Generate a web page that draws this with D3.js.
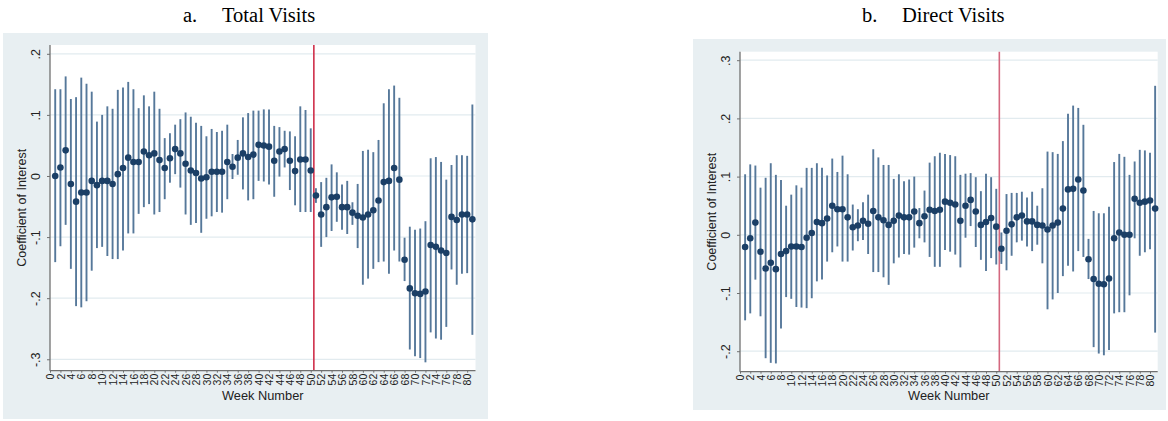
<!DOCTYPE html>
<html>
<head>
<meta charset="utf-8">
<script src="https://cdn.jsdelivr.net/npm/d3@7"></script>
<style>
  html, body { margin: 0; padding: 0; background: #ffffff; }
  svg { display: block; }
</style>
</head>
<body>
<svg id="chart" width="1168" height="421"></svg>
<script>
// Event-study coefficients by week, with 95% confidence bounds.
const weeks = [1,2,3,4,5,6,7,8,9,10,11,12,13,14,15,16,17,18,19,20,
  21,22,23,24,25,26,27,28,29,30,31,32,33,34,35,36,37,38,39,40,
  41,42,43,44,45,46,47,48,49,50,51,52,53,54,55,56,57,58,59,60,
  61,62,63,64,65,66,67,68,69,70,71,72,73,74,75,76,77,78,79,80,81];

const xTicks = [0,2,4,6,8,10,12,14,16,18,20,22,24,26,28,30,32,34,36,38,40,
  42,44,46,48,50,52,54,56,58,60,62,64,66,68,70,72,74,76,78,80];

const eventWeek = 50.6;

// a. Total Visits
const totalCoef = [0.000,0.014,0.042,-0.013,-0.042,-0.027,-0.027,-0.008,-0.015,-0.008,
  -0.008,-0.013,0.003,0.013,0.030,0.023,0.023,0.040,0.034,0.037,
  0.026,0.013,0.029,0.044,0.037,0.020,0.009,0.005,-0.004,-0.002,
  0.007,0.007,0.007,0.023,0.015,0.030,0.037,0.031,0.035,0.051,
  0.050,0.048,0.025,0.040,0.044,0.025,0.008,0.027,0.027,0.009,
  -0.032,-0.063,-0.051,-0.035,-0.034,-0.051,-0.051,-0.060,-0.065,-0.068,
  -0.063,-0.056,-0.040,-0.010,-0.008,0.013,-0.006,-0.137,-0.184,-0.192,
  -0.193,-0.189,-0.113,-0.116,-0.122,-0.126,-0.067,-0.072,-0.063,-0.063,-0.071];
const totalUpper = [0.142,0.142,0.163,0.126,0.129,0.161,0.151,0.138,0.089,0.100,
  0.114,0.110,0.141,0.145,0.154,0.142,0.111,0.132,0.114,0.138,
  0.110,0.062,0.070,0.084,0.093,0.104,0.097,0.087,0.082,0.065,
  0.077,0.072,0.074,0.084,0.036,0.059,0.096,0.103,0.107,0.107,
  0.109,0.109,0.082,0.080,0.074,0.073,0.065,0.114,0.108,0.078,
  -0.020,-0.010,-0.003,0.019,0.006,-0.014,-0.008,-0.043,-0.013,0.041,
  0.043,0.039,0.059,0.119,0.142,0.148,0.128,-0.101,-0.083,-0.088,
  -0.086,-0.074,0.029,0.031,0.023,-0.006,0.018,0.034,0.034,0.033,0.117];
const totalLower = [-0.141,-0.115,-0.080,-0.152,-0.213,-0.215,-0.205,-0.155,-0.118,-0.116,
  -0.131,-0.136,-0.136,-0.122,-0.094,-0.094,-0.062,-0.051,-0.046,-0.063,
  -0.059,-0.038,-0.011,0.003,-0.019,-0.063,-0.080,-0.077,-0.093,-0.070,
  -0.066,-0.059,-0.060,-0.038,-0.005,0.002,-0.022,-0.040,-0.038,-0.008,
  -0.009,-0.014,-0.034,-0.001,0.014,-0.023,-0.048,-0.059,-0.059,-0.059,
  -0.044,-0.116,-0.100,-0.090,-0.075,-0.088,-0.095,-0.080,-0.118,-0.178,
  -0.168,-0.152,-0.141,-0.140,-0.160,-0.122,-0.140,-0.172,-0.284,-0.295,
  -0.298,-0.305,-0.256,-0.266,-0.268,-0.247,-0.153,-0.178,-0.160,-0.159,-0.260];
const totalYTicks = [-0.3,-0.2,-0.1,0,0.1,0.2];
const totalYLabels = ["-.3","-.2","-.1","0",".1",".2"];

// b. Direct Visits
const directCoef = [-0.021,-0.006,0.021,-0.029,-0.058,-0.048,-0.059,-0.033,-0.028,-0.020,
  -0.020,-0.021,-0.005,0.003,0.022,0.020,0.028,0.050,0.044,0.044,
  0.030,0.013,0.016,0.024,0.019,0.041,0.030,0.025,0.017,0.024,
  0.033,0.030,0.030,0.040,0.020,0.032,0.043,0.041,0.043,0.057,
  0.055,0.052,0.024,0.050,0.060,0.040,0.017,0.022,0.029,0.014,
  -0.024,0.007,0.018,0.030,0.033,0.023,0.023,0.017,0.016,0.009,
  0.016,0.021,0.045,0.078,0.079,0.095,0.076,-0.042,-0.076,-0.084,
  -0.085,-0.075,-0.006,0.004,0.000,0.000,0.062,0.055,0.057,0.059,0.045];
const directUpper = [0.104,0.121,0.119,0.081,0.098,0.123,0.103,0.094,0.050,0.069,
  0.085,0.081,0.115,0.115,0.123,0.115,0.102,0.131,0.108,0.136,
  0.104,0.052,0.044,0.056,0.069,0.147,0.133,0.120,0.120,0.096,
  0.104,0.092,0.095,0.100,0.046,0.076,0.124,0.135,0.141,0.139,
  0.137,0.135,0.103,0.105,0.106,0.099,0.075,0.105,0.099,0.079,
  0.004,0.070,0.072,0.072,0.074,0.064,0.074,0.050,0.080,0.143,
  0.142,0.139,0.161,0.208,0.222,0.218,0.189,-0.007,0.041,0.037,
  0.037,0.048,0.125,0.139,0.134,0.103,0.126,0.146,0.145,0.141,0.256];
const directLower = [-0.147,-0.135,-0.077,-0.140,-0.212,-0.220,-0.221,-0.161,-0.107,-0.110,
  -0.124,-0.125,-0.126,-0.109,-0.080,-0.077,-0.046,-0.030,-0.020,-0.046,
  -0.046,-0.027,-0.011,-0.009,-0.033,-0.064,-0.064,-0.073,-0.086,-0.049,
  -0.039,-0.033,-0.034,-0.022,-0.006,-0.013,-0.038,-0.055,-0.055,-0.026,
  -0.029,-0.034,-0.056,-0.005,0.015,-0.021,-0.043,-0.062,-0.040,-0.051,
  -0.050,-0.061,-0.036,-0.013,-0.010,-0.020,-0.028,-0.017,-0.049,-0.128,
  -0.111,-0.100,-0.071,-0.053,-0.063,-0.028,-0.038,-0.076,-0.193,-0.204,
  -0.207,-0.198,-0.135,-0.133,-0.133,-0.104,-0.006,-0.036,-0.030,-0.025,-0.168];
const directYTicks = [-0.2,-0.1,0,0.1,0.2,0.3];
const directYLabels = ["-.2","-.1","0",".1",".2",".3"];

const panelLetters = ["a.", "b."];
const panelTitles = ["Total Visits", "Direct Visits"];
const yTitle = "Coefficient of Interest";
const xTitle = "Week Number";

// Layout for each panel (pixel boxes and axis ranges).
const panels = [
  {
    letter: panelLetters[0], title: panelTitles[0],
    coef: totalCoef, upper: totalUpper, lower: totalLower,
    yTicks: totalYTicks, yLabels: totalYLabels,
    bg: {x: 3, y: 33, w: 485, h: 386},
    plot: {x0: 50, x1: 475.5, y0: 45, y1: 370.7},
    xDomain: [0, 81.6], yDomain: [-0.3187, 0.2144],
    letterX: 183, titleX: 222, redColor: "#cf2f4a"
  },
  {
    letter: panelLetters[1], title: panelTitles[1],
    coef: directCoef, upper: directUpper, lower: directLower,
    yTicks: directYTicks, yLabels: directYLabels,
    bg: {x: 693, y: 39, w: 473, h: 371},
    plot: {x0: 740, x1: 1157.7, y0: 51.7, y1: 371.7},
    xDomain: [0, 81.5], yDomain: [-0.2352, 0.3146],
    letterX: 862, titleX: 902, redColor: "#d4687f"
  }
];

const svg = d3.select("#chart");
const sansFont = "'Liberation Sans', Arial, sans-serif";
const serifFont = "'Liberation Serif', 'Times New Roman', serif";

panels.forEach(p => {
  const g = svg.append("g");

  // Panel title
  g.append("text")
    .attr("x", p.letterX).attr("y", 22)
    .attr("font-family", serifFont).attr("font-size", 20.5)
    .attr("fill", "#000").text(p.letter);
  g.append("text")
    .attr("x", p.titleX).attr("y", 22)
    .attr("font-family", serifFont).attr("font-size", 20.5)
    .attr("fill", "#000").text(p.title);

  // Graph region and plot region
  g.append("rect")
    .attr("x", p.bg.x).attr("y", p.bg.y)
    .attr("width", p.bg.w).attr("height", p.bg.h)
    .attr("fill", "#e8eff2");
  g.append("rect")
    .attr("x", p.plot.x0).attr("y", p.plot.y0)
    .attr("width", p.plot.x1 - p.plot.x0).attr("height", p.plot.y1 - p.plot.y0)
    .attr("fill", "#ffffff");

  const x = d3.scaleLinear().domain(p.xDomain).range([p.plot.x0, p.plot.x1]);
  const y = d3.scaleLinear().domain(p.yDomain).range([p.plot.y1, p.plot.y0]);

  // Horizontal grid lines
  g.append("g").selectAll("line")
    .data(p.yTicks)
    .join("line")
    .attr("x1", p.plot.x0).attr("x2", p.plot.x1)
    .attr("y1", d => y(d)).attr("y2", d => y(d))
    .attr("stroke", "#e2ebef").attr("stroke-width", 1.2);

  // Vertical reference line at the event week
  g.append("line")
    .attr("x1", x(eventWeek)).attr("x2", x(eventWeek))
    .attr("y1", p.plot.y0).attr("y2", p.plot.y1)
    .attr("stroke", p.redColor).attr("stroke-width", 1.6);

  // Confidence intervals
  g.append("g").selectAll("line")
    .data(weeks)
    .join("line")
    .attr("x1", d => x(d)).attr("x2", d => x(d))
    .attr("y1", (d, i) => y(p.upper[i])).attr("y2", (d, i) => y(p.lower[i]))
    .attr("stroke", "#56789a").attr("stroke-width", 1.9);

  // Point estimates
  g.append("g").selectAll("circle")
    .data(weeks)
    .join("circle")
    .attr("cx", d => x(d)).attr("cy", (d, i) => y(p.coef[i]))
    .attr("r", 3.3)
    .attr("fill", "#1b3f66");

  // Y axis
  const yAxis = d3.axisLeft(y)
    .tickValues(p.yTicks)
    .tickFormat((d, i) => p.yLabels[i])
    .tickSize(3).tickSizeOuter(0);
  const yg = g.append("g")
    .attr("transform", `translate(${p.plot.x0},0)`)
    .call(yAxis);
  yg.select(".domain").attr("stroke", "#707070").attr("stroke-width", 1.3)
    .attr("d", `M0,${p.plot.y0}V${p.plot.y1}`);
  yg.selectAll(".tick line").attr("stroke", "#707070");
  yg.selectAll(".tick text")
    .attr("x", 0).attr("dy", 0)
    .attr("transform", "translate(-10,0) rotate(-90)")
    .attr("text-anchor", "middle")
    .attr("font-family", sansFont).attr("font-size", 12.5)
    .attr("fill", "#222");

  // X axis
  const xAxis = d3.axisBottom(x)
    .tickValues(xTicks)
    .tickFormat(d => String(d))
    .tickSize(2).tickSizeOuter(0);
  const xg = g.append("g")
    .attr("transform", `translate(0,${p.plot.y1})`)
    .call(xAxis);
  xg.select(".domain").attr("stroke", "#707070").attr("stroke-width", 1.3)
    .attr("d", `M${p.plot.x0},0H${p.plot.x1}`);
  xg.selectAll(".tick line").attr("stroke", "#707070");
  xg.selectAll(".tick text")
    .attr("y", 0).attr("x", 0).attr("dy", "0.35em")
    .attr("transform", "translate(0,3) rotate(-90)")
    .attr("text-anchor", "end")
    .attr("font-family", sansFont).attr("font-size", 10.5)
    .attr("fill", "#222");

  // Axis titles
  const midY = (p.plot.y0 + p.plot.y1) / 2;
  g.append("text")
    .attr("transform", `translate(${p.plot.x0 - 24},${midY}) rotate(-90)`)
    .attr("text-anchor", "middle")
    .attr("font-family", sansFont).attr("font-size", 12.5)
    .attr("fill", "#222").text(yTitle);
  g.append("text")
    .attr("x", (p.plot.x0 + p.plot.x1) / 2).attr("y", 400)
    .attr("text-anchor", "middle")
    .attr("font-family", sansFont).attr("font-size", 12.8)
    .attr("fill", "#222").text(xTitle);
});
</script>
</body>
</html>
